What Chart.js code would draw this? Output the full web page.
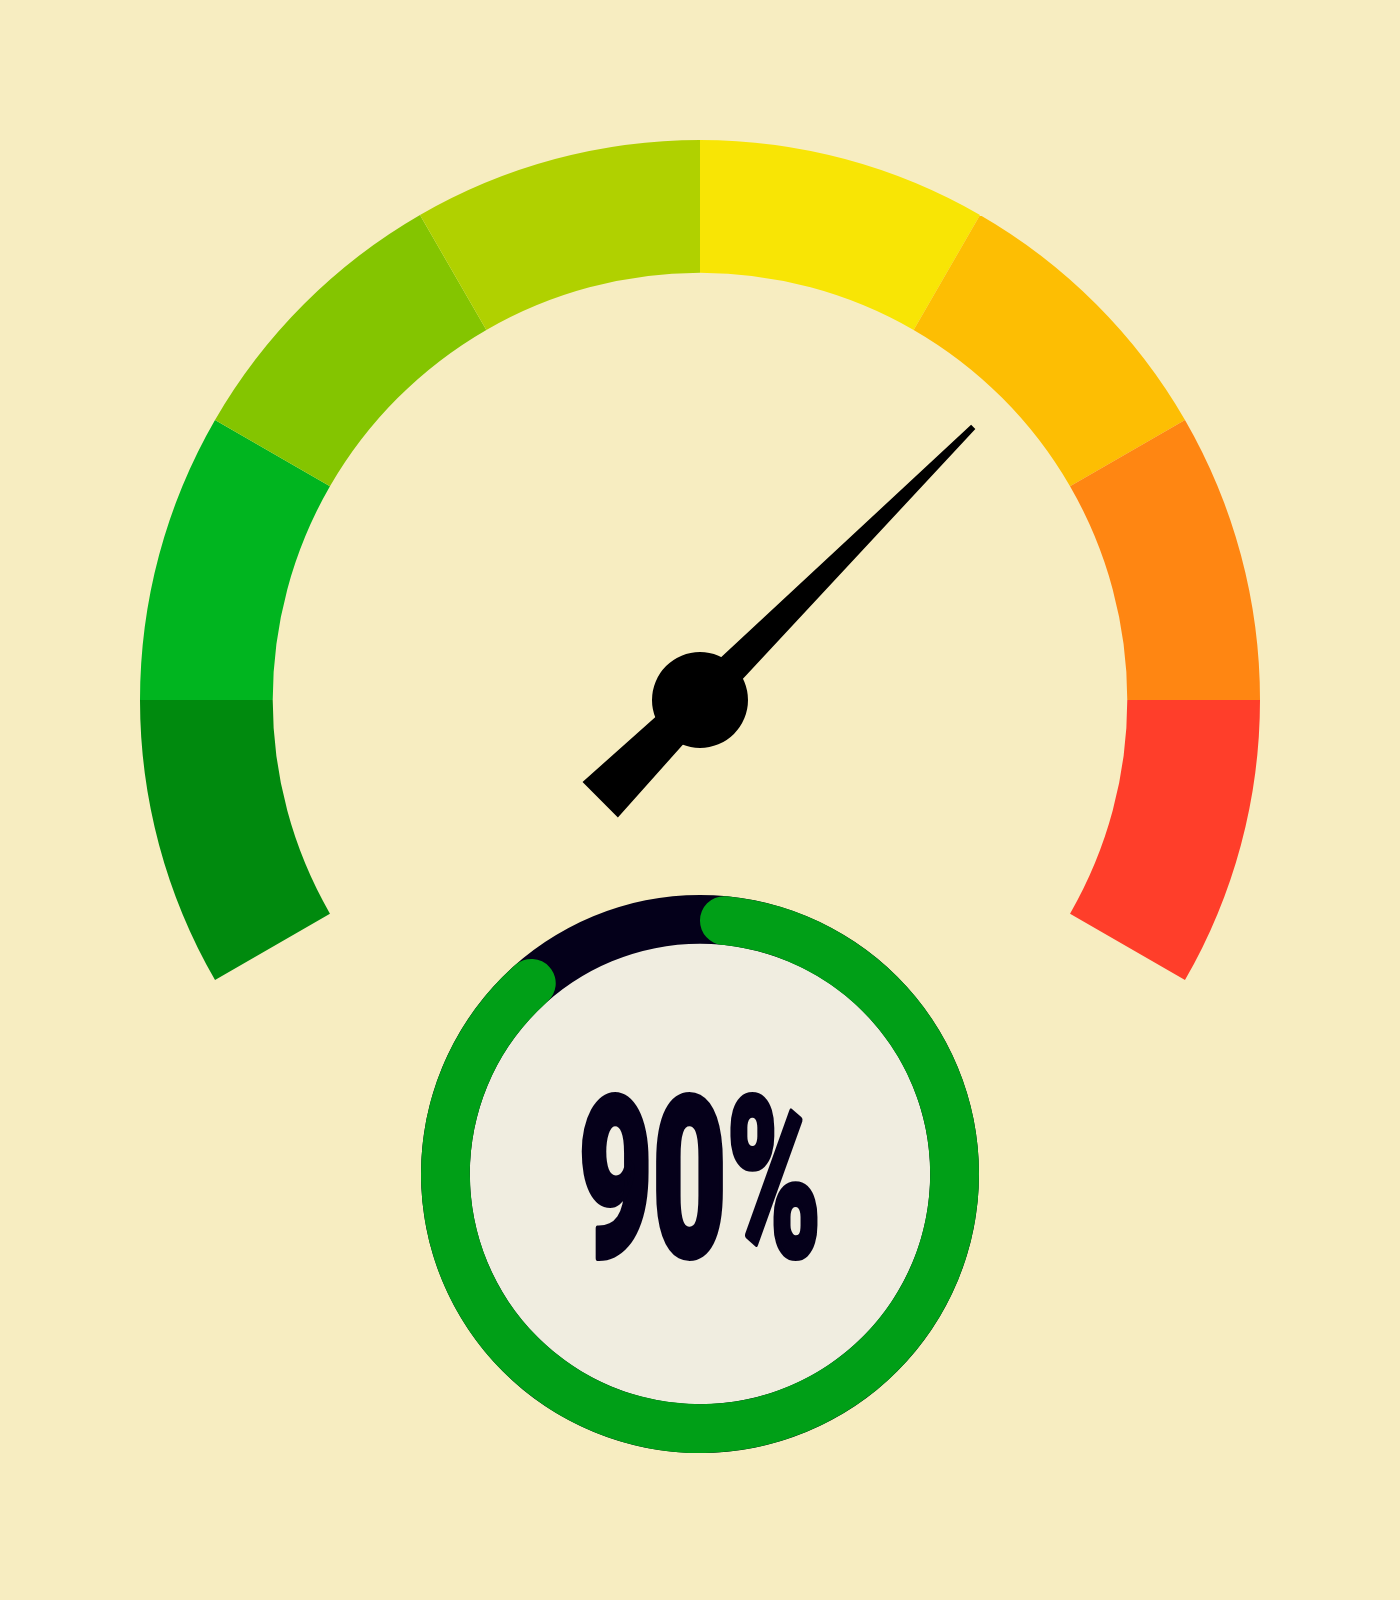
<!DOCTYPE html>
<html>
<head>
<meta charset="utf-8">
<script src="https://cdn.jsdelivr.net/npm/chart.js@4"></script>
<style>
  html, body { margin: 0; padding: 0; background: #F7EDC1; }
  body { width: 1400px; height: 1600px; position: relative; overflow: hidden; }
  canvas { position: absolute; }
  #gauge { left: 140px; top: 140px; width: 1120px; height: 840px; }
  #track, #progress { left: 421px; top: 895px; width: 558px; height: 558px; }
</style>
</head>
<body>
<canvas id="gauge" width="1120" height="840"></canvas>
<canvas id="track" width="558" height="558"></canvas>
<canvas id="progress" width="558" height="558"></canvas>
<script>
// gauge bands, low (left) to high (right)
const bandLabels = ['Band 1', 'Band 2', 'Band 3', 'Band 4', 'Band 5', 'Band 6', 'Band 7', 'Band 8'];
const bandValues = [1, 1, 1, 1, 1, 1, 1, 1];
const bandColors = ['#008A0E', '#00B51F', '#84C500', '#B0D100', '#F8E505', '#FDBE03', '#FF8612', '#FF3E2A'];

// needle position on the gauge
const needleValue = 68.75;
const needleMax = 100;

// ring below
const progressValue = 90;
const progressMax = 100;
const progressLabel = progressValue + '%';

// --- gauge ---
const needlePlugin = {
  id: 'needle',
  afterDatasetsDraw(chart) {
    const arcs = chart.getDatasetMeta(0).data;
    const first = arcs[0], last = arcs[arcs.length - 1];
    const angle = first.startAngle + (last.endAngle - first.startAngle) * needleValue / needleMax;
    const R = first.outerRadius;
    const ctx = chart.ctx;
    ctx.save();
    ctx.translate(first.x, first.y);
    ctx.rotate(angle);
    ctx.fillStyle = '#000';
    ctx.beginPath();
    ctx.moveTo(-R * 0.252, -25);
    ctx.lineTo(0, -17);
    ctx.lineTo(R * 0.69, -3);
    ctx.lineTo(R * 0.69, 3);
    ctx.lineTo(0, 17);
    ctx.lineTo(-R * 0.252, 25);
    ctx.closePath();
    ctx.fill();
    ctx.beginPath();
    ctx.arc(0, 0, 48, 0, Math.PI * 2);
    ctx.fill();
    ctx.restore();
  }
};

new Chart(document.getElementById('gauge'), {
  type: 'doughnut',
  data: {
    labels: bandLabels,
    datasets: [{
      data: bandValues,
      backgroundColor: bandColors,
      borderWidth: 0
    }]
  },
  options: {
    responsive: false,
    animation: false,
    events: [],
    rotation: -120,
    circumference: 240,
    cutout: '76.3%',
    plugins: { legend: { display: false }, tooltip: { enabled: false } }
  },
  plugins: [needlePlugin]
});

// --- ring track + inner face ---
const facePlugin = {
  id: 'face',
  beforeDatasetsDraw(chart) {
    const arc = chart.getDatasetMeta(0).data[0];
    const ctx = chart.ctx;
    ctx.save();
    ctx.fillStyle = '#F0EDE0';
    ctx.beginPath();
    ctx.arc(arc.x, arc.y, arc.innerRadius + 1, 0, Math.PI * 2);
    ctx.fill();
    ctx.restore();
  }
};

new Chart(document.getElementById('track'), {
  type: 'doughnut',
  data: {
    labels: ['track'],
    datasets: [{ data: [progressMax], backgroundColor: ['#04001A'], borderWidth: 0 }]
  },
  options: {
    responsive: false,
    animation: false,
    events: [],
    cutout: '82.5%',
    plugins: { legend: { display: false }, tooltip: { enabled: false } }
  },
  plugins: [facePlugin]
});

// --- ring progress + label ---
const labelPlugin = {
  id: 'centerLabel',
  afterDraw(chart) {
    const arc = chart.getDatasetMeta(0).data[0];
    const ctx = chart.ctx;
    ctx.save();
    ctx.font = '900 222px Roboto';
    const w = ctx.measureText(progressLabel).width;
    const sx = 243 / w;
    ctx.translate(arc.x, arc.y + 82);
    ctx.scale(sx, 1);
    ctx.textAlign = 'center';
    ctx.textBaseline = 'alphabetic';
    ctx.fillStyle = '#05001A';
    ctx.strokeStyle = '#05001A';
    ctx.lineWidth = 6;
    ctx.lineJoin = 'round';
    ctx.fillText(progressLabel, 0, 0);
    ctx.strokeText(progressLabel, 0, 0);
    ctx.restore();
  }
};

new Chart(document.getElementById('progress'), {
  type: 'doughnut',
  data: {
    labels: ['done', 'left'],
    datasets: [{
      data: [progressValue, progressMax - progressValue],
      backgroundColor: ['#009F17', 'rgba(0,0,0,0)'],
      borderWidth: 0,
      borderRadius: 30
    }]
  },
  options: {
    responsive: false,
    animation: false,
    events: [],
    cutout: '82.5%',
    plugins: { legend: { display: false }, tooltip: { enabled: false } }
  },
  plugins: [labelPlugin]
});
</script>
</body>
</html>
